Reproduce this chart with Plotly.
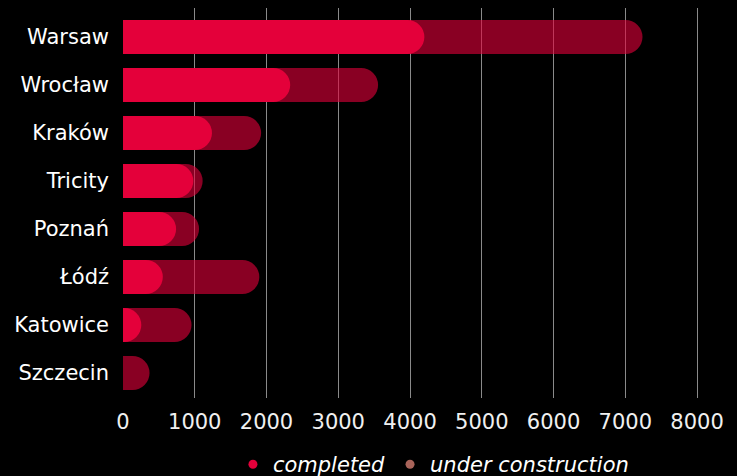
import plotly.graph_objects as go

# Housing units by city
cities = ["Warsaw", "Wrocław", "Kraków", "Tricity", "Poznań", "Łódź", "Katowice", "Szczecin"]
completed = [4200, 2330, 1240, 980, 740, 555, 255, 0]
under_construction = [3040, 1225, 685, 130, 320, 1345, 700, 370]

x_ticks = [0, 1000, 2000, 3000, 4000, 5000, 6000, 7000, 8000]

BRIGHT = "#e4003a"
DARK = "rgba(228,0,58,0.6)"
LEGEND_DARK = "#a9645a"
FONT = "DejaVu Sans"

totals = [c + u for c, u in zip(completed, under_construction)]

Y_RANGE = [7.52, -0.604]

fig = go.Figure()

# Full pipeline (completed + under construction) drawn behind
fig.add_trace(go.Bar(
    y=cities, x=totals, orientation="h", yaxis="y",
    marker=dict(color=DARK, line=dict(width=0), cornerradius="50%"),
    width=0.71, showlegend=False, hoverinfo="skip",
))
# Completed units on their own overlaid axis so each bar keeps its rounded end
fig.add_trace(go.Bar(
    y=cities, x=completed, orientation="h", yaxis="y2",
    marker=dict(color=BRIGHT, line=dict(width=0), cornerradius="50%"),
    width=0.71, showlegend=False, hoverinfo="skip",
))

# Round legend markers
fig.add_trace(go.Scatter(
    x=[None], y=[None], mode="markers", name="completed",
    marker=dict(color=BRIGHT, size=9, symbol="circle"),
))
fig.add_trace(go.Scatter(
    x=[None], y=[None], mode="markers", name="under construction",
    marker=dict(color=LEGEND_DARK, size=9, symbol="circle"),
))

fig.update_layout(
    width=737, height=476,
    margin=dict(l=123, r=17, t=8, b=78, autoexpand=False),
    paper_bgcolor="black", plot_bgcolor="black",
    font=dict(family=FONT, color="white", size=21),
    showlegend=True,
    legend=dict(
        orientation="h", x=0.52, xanchor="center",
        yref="container", y=0.024, yanchor="middle",
        font=dict(family=FONT, size=21, color="white", style="italic"),
        bgcolor="rgba(0,0,0,0)", itemwidth=30,
    ),
    xaxis=dict(
        range=[0, 8320], tickvals=x_ticks, ticktext=[str(v) for v in x_ticks],
        showgrid=True, gridcolor="#8a8a8a", gridwidth=1,
        zeroline=False, showline=False,
        ticks="outside", ticklen=5, tickcolor="rgba(0,0,0,0)",
        tickfont=dict(family=FONT, size=21, color="#f0f0f0"),
        fixedrange=True, automargin=False,
    ),
    yaxis=dict(
        type="category", categoryorder="array", categoryarray=cities,
        range=Y_RANGE, showgrid=False, zeroline=False, showline=False,
        ticks="", ticklabelstandoff=13,
        tickfont=dict(family=FONT, size=21, color="white"),
        fixedrange=True, automargin=False,
    ),
    yaxis2=dict(
        type="category", categoryorder="array", categoryarray=cities,
        range=Y_RANGE, overlaying="y", showgrid=False, zeroline=False,
        showline=False, showticklabels=False, ticks="", fixedrange=True,
    ),
)

fig.write_html("out.html")
